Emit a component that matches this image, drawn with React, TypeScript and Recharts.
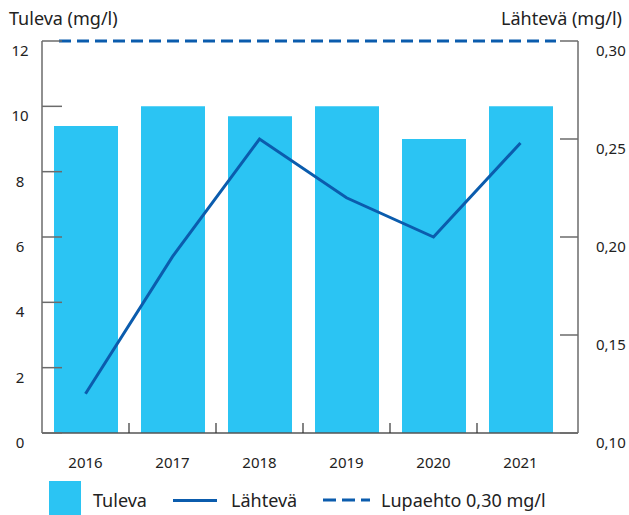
import React from 'react';
import { ComposedChart, Bar, Line, XAxis, YAxis, ReferenceLine } from 'recharts';

const years = ['2016', '2017', '2018', '2019', '2020', '2021'];
const tuleva = [9.4, 10, 9.7, 10, 9.0, 10];
const lahteva = [0.12, 0.19, 0.25, 0.22, 0.2, 0.248];
const LUPAEHTO = 0.3;
const leftTicks = [0, 2, 4, 6, 8, 10, 12];
const rightTicks = [0.1, 0.15, 0.2, 0.25, 0.3];

const data = years.map((y, i) => ({ year: y, tuleva: tuleva[i], lahteva: lahteva[i] }));

const BAR = '#2bc4f3';
const LINE = '#0b5cad';
const AXIS = '#6b6b6b';
const TEXT = '#222';
const FONT = '"Noto Sans", "Open Sans", sans-serif';

const fmtComma = (v: number) => v.toFixed(2).replace('.', ',');

const LeftTick = (props: any) => {
  const { x, y, payload } = props;
  return (
    <g>
      <line x1={x} y1={y} x2={x + 20} y2={y} stroke={AXIS} strokeWidth={1.5} />
      <text x={x - 22} y={y + 9} textAnchor="middle" dominantBaseline="central" fill={TEXT} fontSize={15} fontFamily={FONT}>
        {payload.value}
      </text>
    </g>
  );
};

const RightTick = (props: any) => {
  const { x, y, payload } = props;
  return (
    <g>
      <line x1={x - 18} y1={y} x2={x} y2={y} stroke={AXIS} strokeWidth={1.5} />
      <text x={x + 18} y={y + 9} textAnchor="start" dominantBaseline="central" fill={TEXT} fontSize={15} fontFamily={FONT}>
        {fmtComma(payload.value)}
      </text>
    </g>
  );
};

const BottomTick = (props: any) => {
  const { x, y, payload, index } = props;
  const off = payload && typeof payload.offset === 'number' && payload.offset > 0 ? payload.offset : 43.5;
  return (
    <g>
      {index > 0 && <line x1={x - off} y1={y - 10} x2={x - off} y2={y} stroke="#333" strokeWidth={1.2} />}
      <text x={x} y={y + 29} textAnchor="middle" dominantBaseline="central" fill={TEXT} fontSize={15} fontFamily={FONT}>
        {payload.value}
      </text>
    </g>
  );
};

const LimitShape = (p: any) => {
  const lo = Math.min(Number(p.x1), Number(p.x2));
  const hi = Math.max(Number(p.x1), Number(p.x2));
  return (
    <line
      x1={lo + 17}
      y1={p.y1}
      x2={hi - 22}
      y2={p.y2}
      stroke={LINE}
      strokeWidth={3}
      strokeDasharray="12 6"
    />
  );
};

export default function App() {
  return (
    <div style={{ position: 'absolute', left: 0, top: 0, width: 629, height: 515, fontFamily: FONT, color: TEXT }}>
      <div style={{ position: 'absolute', left: 9, top: 5, fontSize: 18, lineHeight: '26px' }}>Tuleva (mg/l)</div>
      <div style={{ position: 'absolute', right: 7, top: 5, fontSize: 18, lineHeight: '26px' }}>Lähtevä (mg/l)</div>
      <ComposedChart
        width={629}
        height={515}
        data={data}
        margin={{ top: 41, right: 0, bottom: 52, left: 0 }}
        barCategoryGap={0}
      >
        <XAxis
          dataKey="year"
          xAxisId="x"
          height={30}
          padding={{ left: 0, right: 14 }}
          axisLine={{ stroke: '#555', strokeWidth: 1.5 }}
          tickLine={false}
          tickSize={0}
          tickMargin={0}
          tick={<BottomTick />}
          interval={0}
        />
        <YAxis
          yAxisId="left"
          orientation="left"
          width={42}
          domain={[0, 12]}
          ticks={leftTicks}
          axisLine={{ stroke: AXIS, strokeWidth: 1.5 }}
          tickLine={false}
          tickSize={0}
          tickMargin={0}
          tick={<LeftTick />}
          interval={0}
        />
        <YAxis
          yAxisId="right"
          orientation="right"
          width={51}
          domain={[0.1, 0.3]}
          ticks={rightTicks}
          axisLine={{ stroke: AXIS, strokeWidth: 1.5 }}
          tickLine={false}
          tickSize={0}
          tickMargin={0}
          tick={<RightTick />}
          interval={0}
          allowDataOverflow
        />
        <Bar xAxisId="x" yAxisId="left" dataKey="tuleva" fill={BAR} barSize={64} isAnimationActive={false} />
        <Line
          xAxisId="x"
          yAxisId="right"
          dataKey="lahteva"
          stroke={LINE}
          strokeWidth={3}
          dot={false}
          activeDot={false}
          isAnimationActive={false}
          type="linear"
        />
        <ReferenceLine xAxisId="x" yAxisId="right" y={LUPAEHTO} shape={<LimitShape />} />
      </ComposedChart>
      <div style={{ position: 'absolute', left: 49, top: 481, width: 32, height: 34, background: BAR }} />
      <div style={{ position: 'absolute', left: 93, top: 487, fontSize: 18, lineHeight: '26px' }}>Tuleva</div>
      <div style={{ position: 'absolute', left: 173, top: 499, width: 44, height: 3, background: LINE }} />
      <div style={{ position: 'absolute', left: 231, top: 487, fontSize: 18, lineHeight: '26px' }}>Lähtevä</div>
      <svg style={{ position: 'absolute', left: 323, top: 497 }} width={47} height={6}>
        <line x1={0} y1={3} x2={47} y2={3} stroke={LINE} strokeWidth={3} strokeDasharray="13 6" />
      </svg>
      <div style={{ position: 'absolute', left: 381, top: 487, fontSize: 18, lineHeight: '26px' }}>Lupaehto 0,30 mg/l</div>
    </div>
  );
}
